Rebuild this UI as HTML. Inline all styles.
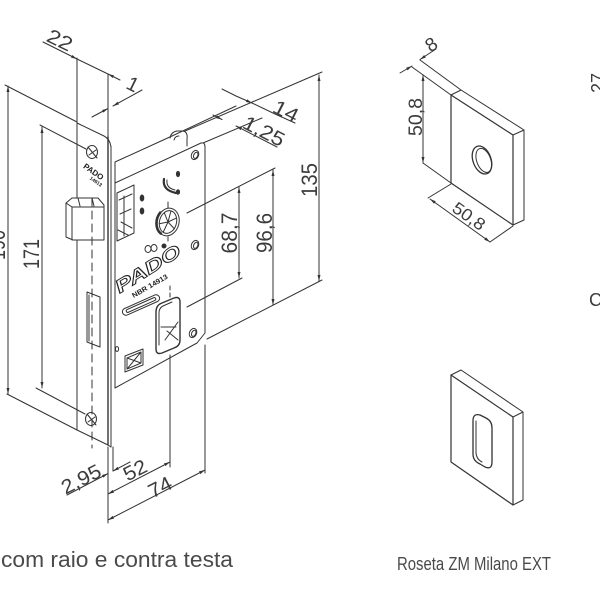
<!DOCTYPE html>
<html><head><meta charset="utf-8"><style>
html,body{margin:0;padding:0;background:#fff;width:600px;height:600px;overflow:hidden}
svg{display:block}
text{font-family:"Liberation Sans",sans-serif;fill:#3c3c3c}
</style></head><body>
<svg width="600" height="600" viewBox="0 0 600 600" xmlns="http://www.w3.org/2000/svg">
<defs>
<marker id="a" viewBox="0 0 10 10" refX="10" refY="5" markerWidth="6" markerHeight="6" orient="auto-start-reverse" markerUnits="userSpaceOnUse"><path d="M0,2.5L10,5L0,7.5z" fill="#333"/></marker>
</defs>
<g stroke="#333" stroke-width="1" fill="none" stroke-linejoin="round" stroke-linecap="round">
<path d="M5,85L77,122"/>
<path d="M7,394L77,430"/>
<path d="M40,125L86,149"/>
<path d="M36,388L85,414"/>
<path d="M8,86V394" marker-start="url(#a)" marker-end="url(#a)"/>
<path d="M42,127V388" marker-start="url(#a)" marker-end="url(#a)"/>
<path d="M77,58V430"/>
<path d="M108,74V137"/>
<path d="M43,42L77,59" marker-end="url(#a)"/>
<path d="M77,59L108,74"/>
<path d="M120,80L108,74" marker-end="url(#a)"/>
<path d="M92,117L108,108.5" marker-end="url(#a)"/>
<path d="M142,90L113,106" marker-end="url(#a)"/>

<path d="M77,123L104,136Q110,139 111,147"/>
<path d="M108,137V445" stroke-width="1.4"/>
<path d="M111,146V447"/>
<path d="M77,430L108,445L111,447"/>
<path d="M115,162V388"/>
<ellipse cx="92" cy="152" rx="5.5" ry="6.5"/>
<path d="M88,147L97,158M89,155L96,150"/>
<ellipse cx="91" cy="419" rx="5.5" ry="6.5"/>
<path d="M87,414L96,425M88,422L95,417"/>
<path d="M66,203L72,198L98,198L104,205V240H73L66,237Z" fill="#fff"/>
<path d="M72,207H104M72,207V240M66,203L72,207M78,198L80,206M92,198L94,206"/>
<path d="M92,198V448" stroke-dasharray="8,5"/>
<path d="M87,292L100,297V347L87,342Z"/>
<path d="M89,295V341"/>

<path d="M115,162L172,136"/>
<path d="M170,138Q171,132 177,131L183,131Q188,132 187,139L187,146"/>
<path d="M174,140Q175,136 179,136"/>
<path d="M115,183L201,143Q205,142 205,147V333L197,343L115,388"/>
<path d="M117,193L134,185V233L117,241Z"/>
<path d="M119,200L132,194M120,214L131,209M124,196V236M121,222L132,228M118,230L128,235"/>
<ellipse cx="142" cy="198" rx="1.8" ry="3" fill="#333"/>
<ellipse cx="142" cy="211" rx="1.8" ry="3" fill="#333"/>
<ellipse cx="117" cy="349" rx="1.6" ry="2.4"/>
<path d="M164,179Q162,190 176,193" stroke-width="2.2"/>
<path d="M167,180Q166,188 175,190"/>
<ellipse cx="178" cy="174" rx="1.6" ry="2.6" fill="#333"/>
<ellipse cx="178" cy="192" rx="1.6" ry="2.3" fill="#333"/>
<path d="M168,202V208M168,237V241"/>
<g transform="translate(168,222) rotate(15)">
<ellipse rx="11" ry="14"/>
<ellipse rx="8.5" ry="11.5"/>
<path d="M0,0L0,-11M0,0L7,-6M0,0L8,5M0,0L-2,11M0,0L-8,4M0,0L-6,-8"/>
<path d="M-4,13A11,14 0 0 1 -10,-7" stroke-width="2.6"/>
</g>
<ellipse cx="148" cy="249" rx="3" ry="3.5"/>
<ellipse cx="154" cy="248" rx="3" ry="3.5"/>
<ellipse cx="164" cy="246" rx="2" ry="2" fill="#333"/>
<g transform="translate(195,155) rotate(25)"><ellipse rx="3.5" ry="4.8"/><ellipse cx="0.8" rx="2" ry="3.2"/></g>
<g transform="translate(195,245) rotate(25)"><ellipse rx="3.5" ry="4.8"/><ellipse cx="0.8" rx="2" ry="3.2"/></g>
<g transform="translate(193,333) rotate(25)"><ellipse rx="3.5" ry="4.8"/><ellipse cx="0.8" rx="2" ry="3.2"/></g>
<g transform="translate(141,305) rotate(-24)"><rect x="-20" y="-3.5" width="40" height="7" rx="3.5"/><rect x="-16" y="-1.5" width="32" height="3" rx="1.5"/></g>
<path d="M156,312Q156,305 162,303L174,298Q180,296 180,302V340Q180,346 174,348L162,353Q156,355 156,349Z" stroke-width="1.4"/>
<path d="M159,313Q159,308 163,306L172,302M159,313V345M161,327H176M167,331L178,340M165,340L178,322"/>
<path d="M170,286V300" stroke-dasharray="4,3"/>
<path d="M125,356L143,349V365L125,372Z"/>
<path d="M127,358L141,352V363L127,369ZM127,358L141,363M127,369L141,352"/>

<path d="M185,131L322,72"/>
<path d="M172,136L236,106"/>
<path d="M203,143L262,118"/>
<path d="M222,89L236,96" />
<path d="M236,96L252,103" marker-end="url(#a)"/>
<path d="M295,123L275,114"/>
<path d="M252,103L275,114"/>
<path d="M213,115L222,119.5" marker-end="url(#a)"/>
<path d="M277,147L236,126" marker-end="url(#a)"/>
<path d="M187,213L275,168"/>
<path d="M187,307L242,278"/>
<path d="M207,339L322,280"/>
<path d="M319,75V281" marker-start="url(#a)" marker-end="url(#a)"/>
<path d="M273,170V305" marker-start="url(#a)" marker-end="url(#a)"/>
<path d="M239,187V278" marker-start="url(#a)" marker-end="url(#a)"/>

<path d="M108,447V523"/>
<path d="M113,447V471"/>
<path d="M170,355V467"/>
<path d="M205,345V473"/>
<path d="M67,495L108,473.5" marker-end="url(#a)"/>
<path d="M130,462L113,471" marker-end="url(#a)"/>
<path d="M108,494L170,462" marker-start="url(#a)" marker-end="url(#a)"/>
<path d="M108,520L205,470" marker-start="url(#a)" marker-end="url(#a)"/>

<path d="M451,95L513,135V225L451,183Z" stroke-width="1.2"/>
<path d="M451,95L461,90L524,130V220L513,225M513,135L524,130"/>
<g transform="translate(482,160) rotate(-20)"><ellipse rx="9" ry="14.5" stroke-width="1.3"/><ellipse cx="1.5" cy="1" rx="7" ry="12.5"/></g>
<path d="M412,67L451,95"/>
<path d="M420,60L461,90"/>
<path d="M400,73L412,66" marker-end="url(#a)"/>
<path d="M436,49L420,59.5" marker-end="url(#a)"/>
<path d="M423,163L451,183"/>
<path d="M423,75V163" marker-start="url(#a)" marker-end="url(#a)"/>
<path d="M451,184L428,198"/>
<path d="M513,226L490,242"/>
<path d="M430,199L490,242" marker-start="url(#a)" marker-end="url(#a)"/>

<path d="M451,375L513,417V505L451,462Z" stroke-width="1.2"/>
<path d="M451,375L461,370L523,412V500L513,505M513,417L523,412"/>
<path d="M473,421Q473,413 480,415L486,418Q492,421 492,428V462Q492,470 485,467L480,464Q473,461 473,454Z" stroke-width="1.3"/>
<path d="M476,421V452Q476,459 482,462"/>
</g>

<text transform="translate(60,40) rotate(26)" text-anchor="middle" y="7" font-size="20" textLength="26" lengthAdjust="spacingAndGlyphs">22</text>
<text transform="translate(133,84) rotate(26)" text-anchor="middle" y="7" font-size="20">1</text>
<text transform="translate(286,111) rotate(27)" text-anchor="middle" y="7" font-size="20" textLength="26" lengthAdjust="spacingAndGlyphs">14</text>
<text transform="translate(264,131) rotate(27)" text-anchor="middle" y="7" font-size="20" textLength="44" lengthAdjust="spacingAndGlyphs">1,25</text>
<text transform="translate(309,180) rotate(-90)" text-anchor="middle" y="8" font-size="22" textLength="34" lengthAdjust="spacingAndGlyphs">135</text>
<text transform="translate(264,233) rotate(-90)" text-anchor="middle" y="8" font-size="22" textLength="40" lengthAdjust="spacingAndGlyphs">96,6</text>
<text transform="translate(229,233) rotate(-90)" text-anchor="middle" y="8" font-size="22" textLength="41" lengthAdjust="spacingAndGlyphs">68,7</text>
<text transform="translate(31,254) rotate(-90)" text-anchor="middle" y="8" font-size="22" textLength="30" lengthAdjust="spacingAndGlyphs">171</text>
<text transform="translate(-3,245) rotate(-90)" text-anchor="middle" y="8" font-size="22" textLength="30" lengthAdjust="spacingAndGlyphs">190</text>
<text transform="translate(81,479) rotate(-27)" text-anchor="middle" y="7" font-size="20" textLength="42" lengthAdjust="spacingAndGlyphs">2,95</text>
<text transform="translate(135,470) rotate(-27)" text-anchor="middle" y="7" font-size="20" textLength="24" lengthAdjust="spacingAndGlyphs">52</text>
<text transform="translate(160,487) rotate(-27)" text-anchor="middle" y="7" font-size="20" textLength="24" lengthAdjust="spacingAndGlyphs">74</text>
<text transform="translate(431,44) rotate(-34)" text-anchor="middle" y="7" font-size="19">8</text>
<text transform="translate(415,117) rotate(-90)" text-anchor="middle" y="7" font-size="19" textLength="38" lengthAdjust="spacingAndGlyphs">50,8</text>
<text transform="translate(469,216) rotate(35)" text-anchor="middle" y="6" font-size="17" textLength="36" lengthAdjust="spacingAndGlyphs">50,8</text>
<text transform="translate(604,83) rotate(-90)" text-anchor="middle" font-size="18">27</text>
<text x="589" y="306" font-size="18">C</text>

<text transform="translate(151,274) rotate(-32)" text-anchor="middle" font-size="18" font-style="italic" font-weight="bold" textLength="74" lengthAdjust="spacingAndGlyphs" style="fill:#fff;stroke:#222;stroke-width:0.9">PADO</text>
<text transform="translate(151,288) rotate(-30)" text-anchor="middle" font-size="7" font-weight="bold" textLength="40" lengthAdjust="spacingAndGlyphs" style="fill:#222">NBR 14913</text>
<text transform="translate(92,174) rotate(35)" text-anchor="middle" font-size="8" font-weight="bold" style="fill:#222">PADO</text>
<text transform="translate(95,183) rotate(35)" text-anchor="middle" font-size="5" font-weight="bold" style="fill:#222">14913</text>

<text x="1" y="567" font-size="22" textLength="232" lengthAdjust="spacingAndGlyphs" style="fill:#4a4a4a">com raio e contra testa</text>
<text x="397" y="570" font-size="18" textLength="154" lengthAdjust="spacingAndGlyphs" style="fill:#4a4a4a">Roseta ZM Milano EXT</text>
</svg>
</body></html>
